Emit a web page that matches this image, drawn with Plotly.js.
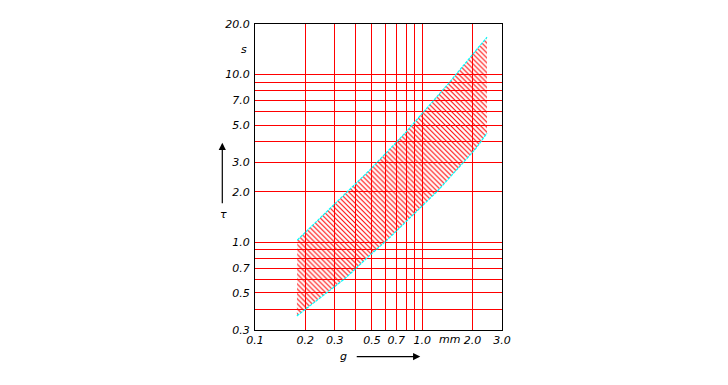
<!DOCTYPE html>
<html>
<head>
<meta charset="utf-8">
<script src="https://cdn.plot.ly/plotly-3.0.1.min.js"></script>
<style>html,body{margin:0;padding:0;background:#fff;}#chart{width:728px;height:385px;}</style>
</head>
<body>
<div id="chart"></div>
<script>
// Grid / tick values
const xTickVals = [0.1, 0.2, 0.3, 0.4, 0.5, 0.6, 0.7, 0.8, 0.9, 1.0, 2.0, 3.0];
const xTickText = ['0.1', '0.2', '0.3', '', '0.5', '', '0.7', '', '', '1.0', '2.0', '3.0'];
const yTickVals = [0.3, 0.4, 0.5, 0.6, 0.7, 0.8, 0.9, 1.0, 2.0, 3.0, 4.0, 5.0, 6.0, 7.0, 8.0, 9.0, 10.0, 20.0];
const yTickText = ['0.3', '', '0.5', '', '0.7', '', '', '1.0', '2.0', '3.0', '', '5.0', '', '7.0', '', '', '10.0', '20.0'];

// Band boundaries (g in mm, tau in s)
const upperG = [0.179, 0.282, 0.49, 0.792, 1.43, 2.44];
const upperT = [1.03, 1.60, 2.72, 4.49, 8.8, 16.7];
const lowerG = [0.178, 0.347, 0.489, 0.616, 1.226, 2.078, 2.44];
const lowerT = [0.364, 0.61, 0.841, 1.03, 2.006, 3.59, 4.47];

const polyX = upperG.concat(lowerG.slice().reverse(), [upperG[0]]);
const polyY = upperT.concat(lowerT.slice().reverse(), [upperT[0]]);

const fnt = {family: 'DejaVu Sans, sans-serif', size: 11, color: '#000', style: 'italic'};

const traces = [
  {
    x: polyX, y: polyY, type: 'scatter', mode: 'lines', fill: 'toself',
    line: {width: 0, color: 'rgba(0,0,0,0)'},
    fillcolor: 'rgba(0,0,0,0)',
    fillpattern: {shape: '\\', fgcolor: '#ff0000', bgcolor: 'rgba(0,0,0,0)', size: 3.5, solidity: 0.3},
    hoverinfo: 'skip', showlegend: false
  },
  {
    x: upperG, y: upperT, type: 'scatter', mode: 'lines',
    line: {color: '#00ffff', width: 1.2, dash: '3px,1px'}, showlegend: false, hoverinfo: 'skip'
  },
  {
    x: lowerG, y: lowerT, type: 'scatter', mode: 'lines',
    line: {color: '#00ffff', width: 1.2, dash: '3px,1px'}, showlegend: false, hoverinfo: 'skip'
  }
];

function lbl(x, y, t) {
  return {xref: 'paper', yref: 'paper', x: x, y: y, text: t, showarrow: false, font: fnt,
          xanchor: 'center', yanchor: 'middle'};
}

const layout = {
  width: 728, height: 385,
  margin: {l: 255, r: 226, t: 24, b: 55},
  paper_bgcolor: '#fff', plot_bgcolor: '#fff',
  showlegend: false,
  font: fnt,
  xaxis: {
    type: 'log', range: [Math.log10(0.1), Math.log10(3.0)],
    tickmode: 'array', tickvals: xTickVals, ticktext: xTickText,
    showgrid: true, gridcolor: '#ff0000', gridwidth: 1,
    showline: true, linecolor: '#000', linewidth: 1, mirror: true,
    ticks: '', zeroline: false, tickfont: fnt, tickangle: 0, ticklabelstandoff: 0
  },
  yaxis: {
    type: 'log', range: [Math.log10(0.3), Math.log10(20.0)],
    tickmode: 'array', tickvals: yTickVals, ticktext: yTickText,
    showgrid: true, gridcolor: '#ff0000', gridwidth: 1,
    showline: true, linecolor: '#000', linewidth: 1, mirror: true,
    ticks: '', zeroline: false, tickfont: fnt, ticklabelstandoff: 2
  },
  annotations: [
    lbl(-0.043, 0.916, 's'),
    lbl(0.787, -0.03, 'mm'),
    lbl(-0.128, 0.376, 'τ'),
    lbl(0.357, -0.0867, 'g'),
    {xref: 'paper', yref: 'paper', x: -0.1324, y: 0.6117, text: '', showarrow: true,
     axref: 'pixel', ayref: 'pixel', ax: 0, ay: 62, arrowhead: 2, arrowsize: 1.2, arrowwidth: 1.2, arrowcolor: '#000', standoff: 0},
    {xref: 'paper', yref: 'paper', x: 0.669, y: -0.0867, text: '', showarrow: true,
     axref: 'pixel', ayref: 'pixel', ax: -65, ay: 0, arrowhead: 2, arrowsize: 1.2, arrowwidth: 1.2, arrowcolor: '#000', standoff: 0}
  ]
};

Plotly.newPlot('chart', traces, layout, {displayModeBar: false, staticPlot: true});
</script>
</body>
</html>
